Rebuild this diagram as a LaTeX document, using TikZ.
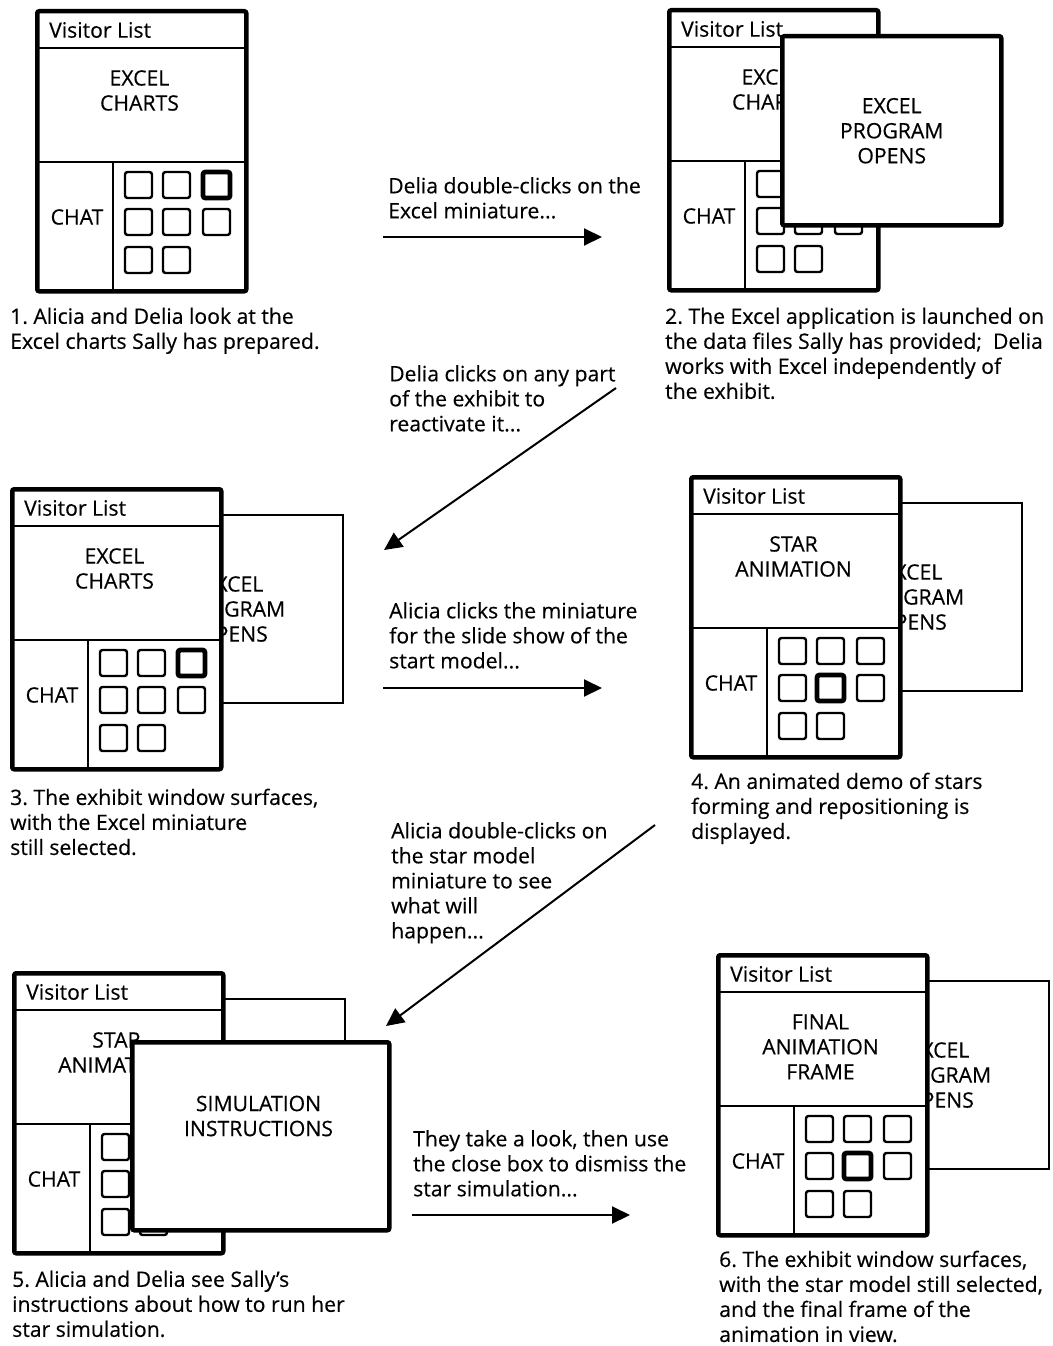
\documentclass[tikz,border=0pt]{standalone}
\usepackage{fontspec}
\setmainfont{Open Sans}[FakeBold=0.35]
\frenchspacing
\usetikzlibrary{arrows.meta}
\newcommand\txtfont{\fontsize{21.2}{25}\selectfont}
\newcommand\screen[4]{% #1 name, #2 middle text, #3/#4 offset of selected miniature
  \node[panel] (#1) at (0,0) {};
  \draw[inner] (0,39) -- (209,39) (0,153) -- (209,153) (78,153) -- (78,280);
  \node[vis] (#1-vis) at (14,21) {Visitor List};
  \node[mid] (#1-mid) at (104.5,61) {#2};
  \node[chat] (#1-chat) at (42,208) {CHAT};
  \foreach \c/\xx in {1/90,2/128,3/168}{\foreach \r/\yy in {1/163,2/200,3/238}{%
    \ifnum\c\r=33 \else \draw[sq] (\xx,\yy) rectangle ++(27,26);\fi}}
  \draw[sqsel] (#3,#4) rectangle ++(27,26);
}
\begin{document}
\begin{tikzpicture}[x=1pt,y=-1pt,
  panel/.style={draw, line width=4.5pt, fill=white, rounded corners=2pt, minimum width=209pt, minimum height=280pt, anchor=north west, inner sep=0},
  inner/.style={line width=1.8pt},
  back/.style={draw, line width=2pt, fill=white, minimum width=219pt, minimum height=188pt, anchor=north west, inner sep=0, align=center, font=\txtfont},
  ovl/.style={draw, line width=4.5pt, fill=white, rounded corners=2pt, anchor=north west, inner sep=0, align=center, font=\txtfont},
  sq/.style={line width=2.4pt, rounded corners=2.5pt},
  sqsel/.style={line width=4.8pt, rounded corners=2.5pt},
  vis/.style={anchor=west, inner sep=0, font=\txtfont},
  mid/.style={anchor=north, inner sep=0, align=center, font=\txtfont},
  chat/.style={anchor=center, inner sep=0, font=\txtfont},
  note/.style={anchor=north west, inner sep=0, align=left, font=\txtfont},
  arr/.style={line width=2pt, -{Triangle[length=18pt,width=17pt]}}
]
\fill[white] (0,0) rectangle (1052,1346);
\useasboundingbox (0,0) rectangle (1052,1346);

% Panel 1
\begin{scope}[shift={(35,9)}]
  \screen{p1}{EXCEL\\CHARTS}{168}{163}
\end{scope}
% Panel 2
\begin{scope}[shift={(667,8)}]
  \screen{p2}{EXCEL\\CHARTS}{168}{163}
  \node[ovl, minimum width=219pt, minimum height=189pt] (p2-ovl) at (113,26) {EXCEL\\PROGRAM\\OPENS};
\end{scope}
% Panel 3
\begin{scope}[shift={(10,487)}]
  \node[back] (p3-back) at (113,27) {EXCEL\\PROGRAM\\OPENS};
  \screen{p3}{EXCEL\\CHARTS}{168}{163}
\end{scope}
% Panel 4
\begin{scope}[shift={(689,475)}]
  \node[back] (p4-back) at (113,27) {EXCEL\\PROGRAM\\OPENS};
  \screen{p4}{STAR\\ANIMATION}{128}{200}
\end{scope}
% Panel 5
\begin{scope}[shift={(12,971)}]
  \node[back] (p5-back) at (113,27) {};
  \screen{p5}{STAR\\ANIMATION}{128}{200}
  \node[ovl, minimum width=257pt, minimum height=188pt] (p5-ovl) at (118,69) {};
  \node[mid] (p5-ovltxt) at (246.5,124.5) {SIMULATION\\INSTRUCTIONS};
\end{scope}
% Panel 6
\begin{scope}[shift={(716,953)}]
  \node[back] (p6-back) at (113,27) {EXCEL\\PROGRAM\\OPENS};
  \screen{p6}{FINAL\\ANIMATION\\FRAME}{128}{200}
\end{scope}

% Captions
\node[note] (c1) at (10,307.5) {1. Alicia and Delia look at the\\Excel charts Sally has prepared.};
\node[note] (c2) at (665,307.5) {2. The Excel application is launched on\\the data files Sally has provided;\ \ Delia\\works with Excel independently of\\the exhibit.};
\node[note] (c3) at (10,788.5) {3. The exhibit window surfaces,\\with the Excel miniature\\still selected.};
\node[note] (c4) at (691,772.5) {4. An animated demo of stars\\forming and repositioning is\\displayed.};
\node[note] (c5) at (12,1270.5) {5. Alicia and Delia see Sally’s\\instructions about how to run her\\star simulation.};
\node[note] (c6) at (719,1250.5) {6. The exhibit window surfaces,\\with the star model still selected,\\and the final frame of the\\animation in view.};

% Arrow labels
\node[note] (t1) at (388,177) {Delia double-clicks on the\\Excel miniature...};
\node[note] (t2) at (389,365) {Delia clicks on any part\\of the exhibit to\\reactivate it...};
\node[note] (t3) at (389,602) {Alicia clicks the miniature\\for the slide show of the\\start model...};
\node[note] (t4) at (391,822) {Alicia double-clicks on\\the star model\\miniature to see\\what will\\happen...};
\node[note] (t5) at (413,1130) {They take a look, then use\\the close box to dismiss the\\star simulation...};

% Arrows
\coordinate (a1s) at (383,237); \coordinate (a1e) at (602,237);
\coordinate (a2s) at (616,388); \coordinate (a2e) at (384,550);
\coordinate (a3s) at (383,688); \coordinate (a3e) at (602,688);
\coordinate (a4s) at (655,825); \coordinate (a4e) at (386,1026);
\coordinate (a5s) at (412,1215); \coordinate (a5e) at (630,1215);
\draw[arr] (a1s) -- (a1e);
\draw[arr] (a2s) -- (a2e);
\draw[arr] (a3s) -- (a3e);
\draw[arr] (a4s) -- (a4e);
\draw[arr] (a5s) -- (a5e);
\end{tikzpicture}
\end{document}
